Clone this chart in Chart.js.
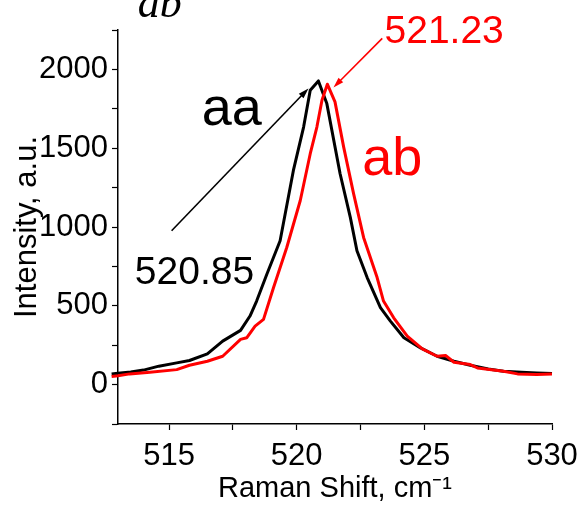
<!DOCTYPE html>
<html>
<head>
<meta charset="utf-8">
<script src="https://cdn.jsdelivr.net/npm/chart.js@4/dist/chart.umd.min.js"></script>
<style>
  html, body { margin: 0; padding: 0; background: #fff; }
</style>
</head>
<body>
<canvas id="myChart" width="579" height="506"></canvas>
<script>
// spectrum aa (black)
const shiftAA = [512.75, 513, 513.5, 514, 514.6, 515.3, 515.8, 516.5, 517.1, 517.8, 518.17, 518.43, 518.83, 519.35, 519.87, 520.27, 520.53, 520.85, 521.18, 521.7, 522.1, 522.36, 522.76, 523.28, 523.67, 524.2, 524.85, 525.5, 526.16, 526.8, 527.5, 528.1, 528.8, 529.4, 530];
const intensityAA = [67, 72, 80, 92, 117, 138, 153, 195, 276, 344, 435, 530, 700, 913, 1359, 1634, 1868, 1927, 1783, 1338, 1061, 849, 679, 488, 403, 297, 233, 180, 148, 123, 99, 85, 78, 74, 70];

// spectrum ab (red)
const shiftAB = [512.75, 513, 513.46, 514.25, 515.3, 515.8, 516.5, 517.1, 517.8, 518.04, 518.37, 518.7, 519.09, 519.61, 520.14, 520.53, 520.79, 520.99, 521.2, 521.5, 521.84, 522.23, 522.62, 523.15, 523.4, 523.8, 524.33, 524.92, 525.5, 525.83, 526.16, 526.8, 527.08, 528.1, 528.65, 529.4, 530];
const intensityAB = [51, 56, 68, 78, 95, 123, 148, 180, 287, 297, 371, 414, 615, 870, 1168, 1465, 1634, 1804, 1906, 1794, 1507, 1210, 934, 679, 530, 424, 308, 227, 180, 185, 142, 127, 106, 85, 68, 64, 68];

// axis ranges and ticks (major ones are labelled)
const xRange = [513, 530];
const yRange = [-250, 2250];
const xTicks = [515, 517.5, 520, 522.5, 525, 527.5, 530];
const yTicks = [-250, 0, 250, 500, 750, 1000, 1250, 1500, 1750, 2000, 2250];
const xMajor = 5;
const yMajor = 500;

// annotation texts and arrows (data coordinates)
const noteTexts = ["aa", "ab", "520.85", "521.23"];
const noteX = [516.28, 522.57, 513.66, 523.44];
const noteY = [1645, 1327, 637, 2168];
const noteColors = ["#000", "#ff0000", "#000", "#ff0000"];
const arrowFrom = [[515.1, 976], [523.35, 2197]];
const arrowTo = [[520.46, 1879], [521.44, 1885]];
const arrowColors = ["#000", "#ff0000"];

function toPoints(xs, ys) {
  return xs.map(function (x, i) { return { x: x, y: ys[i] }; });
}

function setTicks(values) {
  return function (scale) {
    scale.ticks = values.map(function (v) { return { value: v }; });
  };
}

const notesPlugin = {
  id: "notes",
  afterDraw: function (chart) {
    const ctx = chart.ctx;
    const xs = chart.scales.x;
    const ys = chart.scales.y;

    ctx.save();
    // cropped panel label at the very top
    ctx.fillStyle = "#000";
    ctx.font = "italic 44px 'Liberation Serif'";
    ctx.textAlign = "center";
    ctx.textBaseline = "alphabetic";
    ctx.fillText("ab", xs.getPixelForValue(514.64), 17);

    ctx.textAlign = "left";
    for (let i = 0; i < noteTexts.length; i++) {
      ctx.fillStyle = noteColors[i];
      ctx.font = (noteTexts[i].length > 2 ? "39px" : "54px") + " 'Liberation Sans'";
      ctx.fillText(noteTexts[i], xs.getPixelForValue(noteX[i]), ys.getPixelForValue(noteY[i]));
    }

    for (let i = 0; i < arrowFrom.length; i++) {
      const x0 = xs.getPixelForValue(arrowFrom[i][0]);
      const y0 = ys.getPixelForValue(arrowFrom[i][1]);
      const x1 = xs.getPixelForValue(arrowTo[i][0]);
      const y1 = ys.getPixelForValue(arrowTo[i][1]);
      const ang = Math.atan2(y1 - y0, x1 - x0);
      const head = 11;
      ctx.strokeStyle = arrowColors[i];
      ctx.fillStyle = arrowColors[i];
      ctx.lineWidth = 1.6;
      ctx.beginPath();
      ctx.moveTo(x0, y0);
      ctx.lineTo(x1 - Math.cos(ang) * head * 0.8, y1 - Math.sin(ang) * head * 0.8);
      ctx.stroke();
      ctx.beginPath();
      ctx.moveTo(x1, y1);
      ctx.lineTo(x1 - head * Math.cos(ang - 0.3), y1 - head * Math.sin(ang - 0.3));
      ctx.lineTo(x1 - head * Math.cos(ang + 0.3), y1 - head * Math.sin(ang + 0.3));
      ctx.closePath();
      ctx.fill();
    }
    ctx.restore();
  },
};

const ctx = document.getElementById("myChart").getContext("2d");

new Chart(ctx, {
  type: "line",
  data: {
    datasets: [
      {
        label: "aa",
        data: toPoints(shiftAA, intensityAA),
        borderColor: "#000",
        borderWidth: 3,
        order: 2,
        clip: { left: 8, top: 0, right: 4, bottom: 0 },
      },
      {
        label: "ab",
        data: toPoints(shiftAB, intensityAB),
        borderColor: "#ff0000",
        borderWidth: 3,
        order: 1,
        clip: { left: 8, top: 0, right: 4, bottom: 0 },
      },
    ],
  },
  options: {
    responsive: false,
    animation: false,
    devicePixelRatio: 1,
    layout: { padding: { top: 30, right: 27, left: 0, bottom: 0 } },
    elements: {
      point: { radius: 0 },
      line: { tension: 0, borderJoinStyle: "round" },
    },
    plugins: {
      legend: { display: false },
      tooltip: { enabled: false },
    },
    scales: {
      x: {
        type: "linear",
        min: xRange[0],
        max: xRange[1],
        afterBuildTicks: setTicks(xTicks),
        afterFit: function (scale) {
          scale.height = 82;
          scale.paddingLeft = 0;
          scale.paddingRight = 0;
        },
        border: { color: "#000", width: 1.5 },
        grid: { drawOnChartArea: false, color: "#000", tickLength: 6, tickWidth: 1.2 },
        ticks: {
          color: "#000",
          padding: 8,
          maxRotation: 0,
          autoSkip: false,
          font: { family: "'Liberation Sans'", size: 31 },
          callback: function (v) { return v % xMajor === 0 ? String(v) : ""; },
        },
        title: {
          display: true,
          text: "Raman Shift, cm\u207B\u00B9",
          color: "#000",
          font: { family: "'Liberation Sans'", size: 29 },
          padding: { top: 0, bottom: 0 },
        },
      },
      y: {
        type: "linear",
        min: yRange[0],
        max: yRange[1],
        afterBuildTicks: setTicks(yTicks),
        afterFit: function (scale) { scale.width = 118; },
        border: { color: "#000", width: 1.5 },
        grid: { drawOnChartArea: false, color: "#000", tickLength: 6, tickWidth: 1.2 },
        ticks: {
          color: "#000",
          padding: 4,
          autoSkip: false,
          font: { family: "'Liberation Sans'", size: 31 },
          callback: function (v) { return v % yMajor === 0 ? String(v) : ""; },
        },
        title: {
          display: true,
          text: "Intensity, a.u.",
          color: "#000",
          font: { family: "'Liberation Sans'", size: 31 },
          padding: { top: 9, bottom: 0 },
        },
      },
    },
  },
  plugins: [notesPlugin],
});
</script>
</body>
</html>
